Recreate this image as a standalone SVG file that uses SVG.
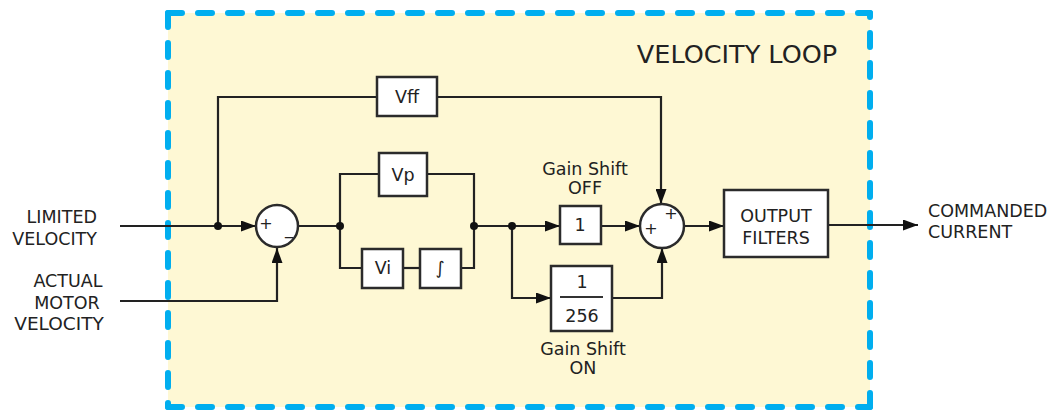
<svg xmlns="http://www.w3.org/2000/svg" width="1049" height="411" viewBox="0 0 1049 411">
<defs>
<style>
text{font-family:"DejaVu Sans","Liberation Sans",sans-serif;fill:#222;font-size:17.5px}
.c{text-anchor:middle}
.box{fill:#fff;stroke:#2b2b2b;stroke-width:2.5}
.sum{fill:#fff;stroke:#2b2b2b;stroke-width:2.5}
.ln{fill:none;stroke:#222;stroke-width:2.2}
.dash{fill:none;stroke:#00aeef;stroke-width:6;stroke-linecap:round;stroke-dasharray:14 16}
.dot{fill:#111}
</style>
<marker id="ah" viewBox="0 0 15 11" refX="15" refY="5.5" markerWidth="15" markerHeight="11" markerUnits="userSpaceOnUse" orient="auto">
<path d="M0,0L15,5.5L0,11z" fill="#111"/>
</marker>
</defs>
<g id="loop-frame">
<rect x="168" y="13" width="702" height="394" fill="#fef8d4"/>
<path class="dash" d="M168,13H870"/>
<path class="dash" d="M168,13V407"/>
<path class="dash" d="M168,407H870"/>
<path class="dash" d="M870,407V13"/>
<text x="737" y="63" class="c" style="font-size:25.5px">VELOCITY LOOP</text>
</g>
<g id="connectors">
<path class="ln" d="M120,226H256" marker-end="url(#ah)"/>
<path class="ln" d="M120,301H277V248" marker-end="url(#ah)"/>
<path class="ln" d="M218,226V97H377"/>
<path class="ln" d="M437,97H661V204" marker-end="url(#ah)"/>
<path class="ln" d="M298,226H340"/>
<path class="ln" d="M340,226V174H379"/>
<path class="ln" d="M427,174H474V268H461"/>
<path class="ln" d="M340,226V268H362"/>
<path class="ln" d="M403,268H420"/>
<path class="ln" d="M474,226H560" marker-end="url(#ah)"/>
<path class="ln" d="M512,226V298H551" marker-end="url(#ah)"/>
<path class="ln" d="M601,226H640" marker-end="url(#ah)"/>
<path class="ln" d="M612,298H662V248" marker-end="url(#ah)"/>
<path class="ln" d="M684,226H724" marker-end="url(#ah)"/>
<path class="ln" d="M828,225H918" marker-end="url(#ah)"/>
<circle class="dot" cx="218" cy="226" r="4"/>
<circle class="dot" cx="340" cy="226" r="4"/>
<circle class="dot" cx="474" cy="226" r="4"/>
<circle class="dot" cx="512" cy="226" r="4"/>
</g>
<g id="in-limited">
<text x="97" y="223" text-anchor="end">LIMITED</text>
<text x="97" y="245" text-anchor="end">VELOCITY</text>
</g>
<g id="in-actual">
<text x="68" y="287" class="c">ACTUAL</text>
<text x="67" y="309" class="c">MOTOR</text>
<text x="59" y="330" class="c" style="font-size:18.5px">VELOCITY</text>
</g>
<g id="vff">
<rect class="box" x="377" y="77" width="60" height="39"/>
<text x="407" y="103" class="c">Vff</text>
</g>
<g id="sum1">
<circle class="sum" cx="277" cy="226" r="21"/>
<text x="266" y="229" class="c" style="font-size:16px">+</text>
<text x="289" y="234" class="c" style="font-size:16px">_</text>
</g>
<g id="vp">
<rect class="box" x="379" y="153" width="48" height="43"/>
<text x="403" y="181" class="c">Vp</text>
</g>
<g id="vi">
<rect class="box" x="362" y="249" width="41" height="39"/>
<text x="383" y="274" class="c">Vi</text>
</g>
<g id="integ">
<rect class="box" x="420" y="249" width="41" height="39"/>
<text x="440" y="274" class="c">∫</text>
</g>
<g id="gain-off">
<text x="585" y="175" class="c">Gain Shift</text>
<text x="585" y="194" class="c">OFF</text>
<rect class="box" x="560" y="206" width="41" height="38"/>
<text x="580" y="231" class="c">1</text>
</g>
<g id="gain-on">
<rect class="box" x="551" y="266" width="61" height="65"/>
<text x="582" y="288" class="c">1</text>
<path d="M560,297H603" stroke="#333" stroke-width="2"/>
<text x="582" y="322" class="c">256</text>
<text x="583" y="355" class="c">Gain Shift</text>
<text x="583" y="374" class="c">ON</text>
</g>
<g id="sum2">
<circle class="sum" cx="662" cy="226" r="22"/>
<text x="651" y="234" class="c" style="font-size:16px">+</text>
<text x="671" y="219" class="c" style="font-size:16px">+</text>
</g>
<g id="output-filters">
<rect class="box" x="724" y="190" width="104" height="67"/>
<text x="776" y="222" class="c">OUTPUT</text>
<text x="776" y="244" class="c">FILTERS</text>
</g>
<g id="out-label">
<text x="928" y="217">COMMANDED</text>
<text x="928" y="238">CURRENT</text>
</g>
</svg>
